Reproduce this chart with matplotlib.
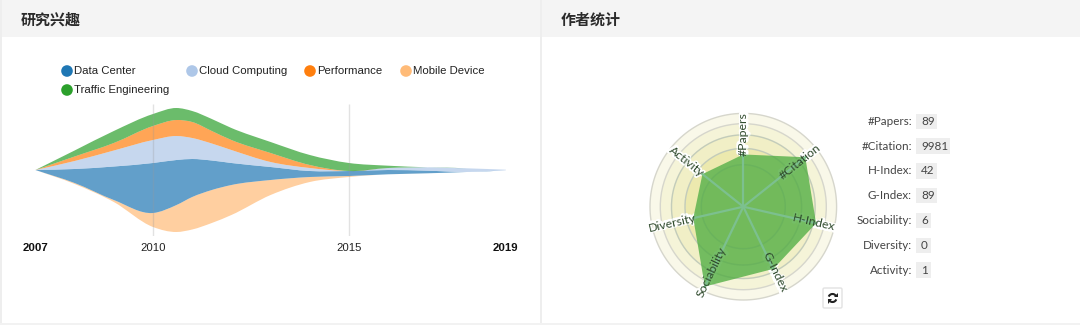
import numpy as np
import matplotlib
matplotlib.use('Agg')
import matplotlib.pyplot as plt
from matplotlib.path import Path
from matplotlib.patches import PathPatch, Rectangle, Circle, Arc, FancyBboxPatch, Polygon
import matplotlib.patheffects as pe

W, H = 1080, 325

# stream chart data
years = [2007, 2008, 2009, 2010, 2010.6, 2011, 2011.5, 2012, 2013, 2014, 2015, 2016, 2017, 2018, 2019]
baseline = [0, -14, -32, -57, -62, -59.5, -53, -45, -25, -12, -7, -4.3, -3.3, -2, -0.3]
mobile_device = [0, 1, 2, 14, 27, 32.5, 33, 30, 15, 5, 1, 0, 0, 0, 0]
data_center = [0, 14, 33.5, 50, 45, 38, 29.5, 22, 13, 6, 5, 4.3, 2.6, 0, 0]
cloud_computing = [0, 8, 16, 23, 24, 21, 17, 13, 5, 3, 0, 2, 3.4, 3.7, 0.6]
performance = [0, 4.5, 7.5, 14, 16, 16, 12.5, 10, 9, 3, 0, 0, 0, 0, 0]
traffic_eng = [0, 6, 12, 12, 12, 11, 12, 12, 11, 10, 8, 2.3, 0, 0, 0]

tick_years = [2007, 2010, 2015, 2019]
grid_years = [2010, 2015]

legend_names = ['Data Center', 'Cloud Computing', 'Performance', 'Mobile Device', 'Traffic Engineering']
legend_colors = ['#1f77b4', '#aec7e8', '#ff7f0e', '#ffbb78', '#2ca02c']

# radar data
radar_names = ['#Papers', '#Citation', 'H-Index', 'G-Index', 'Sociability', 'Diversity', 'Activity']
radar_values = [0.56, 0.85, 0.80, 0.74, 0.95, 0.55, 0.56]
ring_radii = [1.0, 0.89, 0.77, 0.625, 0.45]
ring_colors = ['#f9f8e9', '#f5f4d8', '#f1efc6', '#ece9ae', '#e8e49c']

stat_names = ['#Papers:', '#Citation:', 'H-Index:', 'G-Index:', 'Sociability:', 'Diversity:', 'Activity:']
stat_values = ['89', '9981', '42', '89', '6', '0', '1']


def stream_path(x, lo, hi):
    # closed bezier band between two boundaries
    x = np.array(x, dtype=float)
    verts = []
    codes = []
    lo_slope = np.gradient(lo, x)
    hi_slope = np.gradient(hi, x)
    verts.append((x[0], hi[0]))
    codes.append(Path.MOVETO)
    for i in range(len(x) - 1):
        d = (x[i + 1] - x[i]) / 3
        verts += [(x[i] + d, hi[i] + hi_slope[i] * d), (x[i + 1] - d, hi[i + 1] - hi_slope[i + 1] * d), (x[i + 1], hi[i + 1])]
        codes += [Path.CURVE4] * 3
    verts.append((x[-1], lo[-1]))
    codes.append(Path.LINETO)
    for i in range(len(x) - 1, 0, -1):
        d = (x[i] - x[i - 1]) / 3
        verts += [(x[i] - d, lo[i] - lo_slope[i] * d), (x[i - 1] + d, lo[i - 1] + lo_slope[i - 1] * d), (x[i - 1], lo[i - 1])]
        codes += [Path.CURVE4] * 3
    verts.append((x[0], hi[0]))
    codes.append(Path.CLOSEPOLY)
    return Path(verts, codes)


def px_axes(left, top, right, bottom, **kw):
    return fig.add_axes([left / W, 1 - bottom / H, (right - left) / W, (bottom - top) / H], **kw)


fig = plt.figure(figsize=(W / 100, H / 100), dpi=100)

# page furniture, in pixels
bg = fig.add_axes([0, 0, 1, 1], zorder=0)
bg.set_xlim(0, W)
bg.set_ylim(H, 0)
bg.axis('off')
bg.add_patch(Rectangle((0, 0), W, 37, color='#f4f4f4', lw=0))
bg.add_patch(Rectangle((540, 0), 2, H, color='#eeeeee', lw=0))
bg.add_patch(Rectangle((0, 0), 1.5, H, color='#eeeeee', lw=0))
bg.add_patch(Rectangle((0, 323), W, 2, color='#f2f2f2', lw=0))
cjk = ['Noto Sans CJK SC', 'DejaVu Sans']
bg.text(21, 20, '研究兴趣', family=cjk, fontsize=10.8, fontweight='bold', color='#2b2b2b', va='center')
bg.text(561, 20, '作者统计', family=cjk, fontsize=10.8, fontweight='bold', color='#2b2b2b', va='center')

# legend
legend_pos = [(67, 71), (192, 71), (310, 71), (406, 71), (67, 90)]
for name, col, (lx, ly) in zip(legend_names, legend_colors, legend_pos):
    bg.add_patch(Circle((lx, ly), 5.8, color=col, lw=0))
    bg.text(lx + 7, ly, name, family='Liberation Sans', fontsize=8.2, color='#222222', va='center')

# stats list
stat_y = [121.5, 146, 171, 195.5, 220.5, 245.5, 270]
for name, val, y in zip(stat_names, stat_values, stat_y):
    bg.text(912, y, name, family='Lato', fontsize=8.4, color='#444444', ha='right', va='center')
    box_w = 6.2 * len(val) + 9
    bg.add_patch(Rectangle((916, y - 8), box_w, 15.5, color='#eeeeee', lw=0, zorder=1))
    bg.text(921, y, val, family='Lato', fontsize=8.4, color='#444444', ha='left', va='center', zorder=2)

# refresh button
bg.add_patch(FancyBboxPatch((823, 288), 19, 20, boxstyle='round,pad=0,rounding_size=1.5', fc='white', ec='#e2e2e2', lw=1))
bg.add_patch(Arc((832.5, 298), 8, 8, theta1=200, theta2=340, color='#222222', lw=1.5))
bg.add_patch(Arc((832.5, 298), 8, 8, theta1=20, theta2=160, color='#222222', lw=1.5))
bg.add_patch(Polygon([(837.5, 292.5), (837.5, 297), (833.5, 297)], color='#222222', lw=0))
bg.add_patch(Polygon([(827.5, 303.5), (827.5, 299), (831.5, 299)], color='#222222', lw=0))

# stream chart
ax = px_axes(35.4, 104, 505.8, 236, zorder=2)
ax.patch.set_alpha(0)
ax.set_xlim(2007, 2019)
ax.set_ylim(-66, 66)
for s in ax.spines.values():
    s.set_visible(False)

stack = np.array(baseline, dtype=float)
series = [(mobile_device, '#ffbb78'), (data_center, '#1f77b4'), (cloud_computing, '#aec7e8'),
          (performance, '#ff7f0e'), (traffic_eng, '#2ca02c')]
for vals, col in series:
    top = stack + np.array(vals, dtype=float)
    ax.add_patch(PathPatch(stream_path(years, stack, top), fc=col, ec='none', alpha=0.7, clip_on=False))
    stack = top

ax.vlines(grid_years, -66, 66, color='#999999', alpha=0.28, lw=1)
ax.set_yticks([])
ax.set_xticks(tick_years)
ax.set_xticklabels([str(y) for y in tick_years], family='Liberation Sans', fontsize=8.2, color='#222222')
ax.tick_params(axis='x', length=0, pad=5)
labs = ax.get_xticklabels()
labs[0].set_fontweight('bold')
labs[-1].set_fontweight('bold')
labs[0].set_color('#111111')
labs[-1].set_color('#111111')

# radar
cx, cy, rad = 743.3, 206.7, 93.3
rax = px_axes(cx - rad, cy - rad, cx + rad, cy + rad, projection='polar', zorder=3)
rax.patch.set_alpha(0)
rax.set_theta_zero_location('N')
rax.set_theta_direction(-1)
rax.set_ylim(0, 1)
rax.set_xticks([])
rax.set_yticks([])
rax.grid(False)
rax.spines['polar'].set_visible(False)

ring_theta = np.linspace(0, 2 * np.pi, 181)
for r, col in zip(ring_radii, ring_colors):
    rax.fill(ring_theta, np.full_like(ring_theta, r), color=col, lw=0, zorder=1)
    rax.plot(ring_theta, np.full_like(ring_theta, r), color='#d6d6cc', lw=1, zorder=2, clip_on=False)

angles = np.arange(len(radar_names)) * 2 * np.pi / len(radar_names)
for a, name in zip(angles, radar_names):
    rot = 90 - np.degrees(a)
    if rot < -90:
        rot += 180
    # halo sits under the polygon, the letters stay readable on top of it
    rax.text(a, 0.78, name, family='Lato', fontsize=8.8, color='white', rotation=rot,
             rotation_mode='anchor', ha='center', va='center', zorder=3,
             path_effects=[pe.withStroke(linewidth=2.5, foreground='white')])
    rax.text(a, 0.78, name, family='Lato', fontsize=8.8, color='#2f4a2c', rotation=rot,
             rotation_mode='anchor', ha='center', va='center', zorder=7)

rax.fill(np.append(angles, angles[0]), radar_values + radar_values[:1], color='#62b552', alpha=0.88, lw=0, zorder=4)
for r in ring_radii[2:]:
    rax.plot(ring_theta, np.full_like(ring_theta, r), color='#3f8a3f', alpha=0.12, lw=1, zorder=5)
for a, v in zip(angles, radar_values):
    rax.plot([a, a], [0, v], color='#7cc08f', lw=1.6, zorder=6)

fig.savefig('out.png', dpi=100)
